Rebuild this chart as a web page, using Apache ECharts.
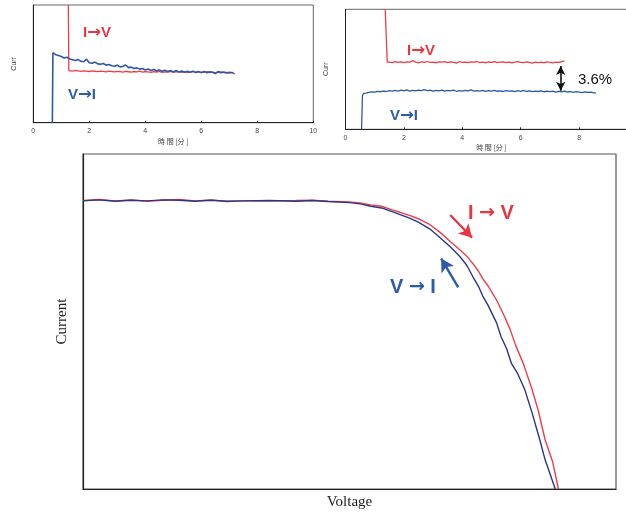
<!DOCTYPE html>
<html>
<head>
<meta charset="utf-8">
<script src="https://cdn.jsdelivr.net/npm/echarts@6/dist/echarts.min.js"></script>
<style>
html, body { margin: 0; padding: 0; background: #fff; }
#c { width: 626px; height: 513px; }
</style>
</head>
<body>
<div id="c"></div>
<script>
// ---- Panel A: current vs. time (upper left) ----
const aIVLead = [[1.25, 100], [1.27, 44.2]];
const aIVStart = 1.3;
const aIVValues = [
  44.2, 43.8, 44.4, 44.0, 43.6, 44.1, 43.9, 43.5, 44.0, 43.7,
  43.4, 43.9, 43.6, 43.2, 43.8, 43.5, 43.1, 43.6, 43.4, 43.0,
  43.7, 43.3, 42.9, 43.5, 43.2, 43.8, 42.9, 43.4, 43.1, 42.7,
  43.3, 43.0, 43.6, 42.8, 43.2, 42.9, 43.5, 42.7, 43.1, 43.4,
  42.8, 43.2, 42.6, 43.0, 43.5, 42.7, 43.1, 42.5, 42.9, 43.3,
  42.6, 43.0, 42.4, 42.9, 43.2, 42.5, 42.8, 42.2, 42.7, 41.3
];
const aVILead = [[0.68, 0], [0.70, 59.5], [0.75, 58.6]];
const aVIStart = 0.8;
const aVIValues = [
  57.8, 57.0, 56.2, 55.0, 55.6, 54.2, 53.5, 52.8, 53.6, 52.2,
  51.8, 54.0, 51.0, 50.6, 51.5, 50.0, 49.6, 50.3, 48.9, 49.5,
  48.4, 47.9, 48.8, 47.4, 48.0, 49.0, 46.8, 47.2, 46.0, 46.6,
  45.5, 46.1, 44.8, 45.6, 44.4, 45.2, 44.0, 44.9, 43.7, 44.6,
  43.5, 44.3, 43.2, 44.4, 43.0, 43.9, 42.8, 43.7, 42.9, 43.8,
  42.6, 43.5, 42.7, 43.6, 42.4, 43.3, 42.8, 41.8, 43.4, 42.5,
  43.1, 42.3, 42.9, 42.4
];
const aVITail = [[7.15, 42.6]];

// ---- Panel B: current vs. time (upper right) ----
const bIVLead = [[1.36, 100], [1.43, 56.0]];
const bIVStart = 1.5;
const bIVValues = [
  56.0, 55.6, 56.4, 55.8, 56.2, 55.5, 56.1, 55.9, 57.2, 56.0,
  55.4, 56.3, 55.8, 56.5, 55.7, 56.0, 55.3, 56.2, 55.9, 56.4,
  55.6, 56.1, 55.8, 55.2, 56.3, 55.7, 56.0, 55.5, 56.2, 55.9,
  56.5, 55.6, 56.0, 55.4, 56.1, 55.8, 56.3, 55.5, 55.9, 56.2,
  55.6, 56.0, 55.3, 55.9, 56.4, 55.7, 55.5, 56.1, 55.8, 55.2,
  56.0, 55.6, 55.9, 55.3, 56.2, 55.7, 55.4, 56.0, 55.8, 56.3, 57.0
];
const bVILead = [[0.55, 0], [0.58, 28.0], [0.62, 30.0]];
const bVIStart = 0.7;
const bVIValues = [
  30.2, 30.8, 31.2, 31.0, 31.6, 31.3, 31.9, 31.5, 32.2, 31.8,
  32.4, 31.9, 32.6, 32.1, 32.8, 31.8, 32.5, 32.0, 32.7, 32.2,
  33.0, 32.3, 32.6, 31.9, 32.5, 32.1, 32.7, 31.8, 32.4, 32.0,
  32.6, 31.7, 32.3, 31.9, 32.5, 32.0, 32.8, 31.8, 32.3, 31.9,
  32.4, 31.6, 32.2, 31.8, 32.5, 31.7, 32.1, 31.5, 32.3, 31.8,
  32.0, 31.4, 32.2, 31.6, 32.4, 31.5, 32.0, 31.3, 31.9, 31.5,
  32.1, 31.2, 31.8, 31.4, 31.9, 31.0, 31.7, 31.2, 31.8, 31.0,
  31.5, 30.8, 31.4, 31.0, 30.6, 31.2, 30.7, 30.9, 30.4
];
const bVITail = [[8.58, 30.3]];
const bGapTime = 7.37;
const bGapTop = 52.75;
const bGapBottom = 32.2;
const bGapLabel = '3.6%';

// ---- Panel C: I-V curves ----
const cIV = [
  [0, 86.1], [3, 86.4], [6, 86.0], [9, 86.3], [12, 85.9], [15, 86.2], [18, 86.4],
  [21, 86.0], [24, 86.3], [27, 85.8], [30, 86.0], [35, 86.0], [40, 86.1], [43, 86.2],
  [46, 85.9], [50, 85.7], [52, 85.4], [54, 84.8], [56, 84.4], [58, 83.3], [59.5, 82.6],
  [61.4, 81.6], [63, 80.6], [65.1, 78.9], [67, 76.6], [68.9, 73.9], [70.7, 71.4],
  [72, 69.5], [73.2, 67.2], [74.2, 65.0], [75.0, 62.8], [76.0, 60.6], [77.6, 56.4],
  [79.0, 51.8], [80.1, 47.8], [81.2, 42.8], [82.6, 37.5], [84.2, 30.0], [85.4, 23.5],
  [86.7, 14.7], [88.1, 8.2], [89.2, 0]
];
const cVI = [
  [0, 86.0], [3, 86.3], [6, 85.9], [9, 86.2], [12, 86.0], [15, 86.3], [18, 86.2],
  [21, 85.9], [24, 86.2], [27, 85.9], [30, 86.0], [35, 86.1], [40, 85.9], [43, 86.1],
  [46, 85.8], [50, 85.5], [52, 85.1], [54, 84.4], [56, 83.9], [58, 82.8], [59.5, 81.9],
  [61.4, 80.8], [63, 79.6], [65.1, 77.6], [67, 75.0], [68.9, 72.3], [70.7, 69.4],
  [72, 66.8], [73.2, 63.2], [74.2, 60.5], [75.0, 57.6], [76.0, 54.8], [77.6, 49.6],
  [78.4, 45.6], [79.5, 41.8], [80.4, 37.4], [81.5, 34.6], [82.9, 29.6], [84.3, 22.5],
  [85.7, 14.7], [86.7, 8.7], [87.7, 4.2], [88.6, 0]
];
const cIVArrow = [[68.9, 81.8], [73.0, 75.0]];
const cVIArrow = [[70.4, 60.2], [67.2, 68.8]];

// turn evenly sampled readings into [time, value] pairs
function sampled(start, values) {
  return values.map((v, i) => [+(start + i * 0.1).toFixed(2), v]);
}

const RED = '#ee3d48';
const BLUE = '#2c58a8';
const NAVY = '#2b3585';
const LABEL_RED = '#e8353f';
const LABEL_BLUE = '#2d5aab';
const SANS = 'Liberation Sans, DejaVu Sans, sans-serif';
const SERIF = 'Liberation Serif, DejaVu Serif, serif';
const CJK = 'Noto Sans CJK JP, sans-serif';

function timeAxis(gridIndex) {
  return {
    type: 'value', gridIndex, min: 0, max: 10, interval: 2,
    axisLine: { show: true, lineStyle: { color: '#222', width: 1 } },
    axisTick: { show: true, inside: true, length: 2, lineStyle: { color: '#222' } },
    axisLabel: { fontSize: 7, color: '#444', fontFamily: SANS, margin: 5 },
    splitLine: { show: false },
    name: '時 間 [分 ]', nameLocation: 'middle', nameGap: 15,
    nameTextStyle: { fontSize: 7, color: '#444', fontFamily: CJK }
  };
}
function currAxis(gridIndex) {
  return {
    type: 'value', gridIndex, min: 0, max: 100,
    axisLine: { show: true, lineStyle: { color: '#222', width: 1 } },
    axisTick: { show: false }, axisLabel: { show: false },
    splitLine: { show: false },
    name: 'Curr', nameLocation: 'middle', nameGap: 16, nameRotate: 90,
    nameTextStyle: { fontSize: 7, color: '#444', fontFamily: SANS }
  };
}
function lineSeries(idx, data, color, width) {
  return {
    type: 'line', xAxisIndex: idx, yAxisIndex: idx, data,
    showSymbol: false, symbol: 'none', animation: false,
    lineStyle: { color, width }, silent: true
  };
}
// direction label: letters in a sans face, heavy arrow between them
function label(from, to, x, y, color, size, arrowScale, spaced) {
  const pad = spaced ? ' ' : '';
  return {
    type: 'text', x, y, silent: true,
    style: {
      text: '{l|' + from + pad + '}{a|→}{l|' + pad + to + '}',
      fill: color, verticalAlign: 'middle',
      rich: {
        l: { fill: color, fontSize: size, fontWeight: 'bold', fontFamily: 'Liberation Sans' },
        a: { fill: color, fontSize: size * arrowScale, fontWeight: 'bold', fontFamily: 'DejaVu Sans' }
      }
    }
  };
}

const chart = echarts.init(document.getElementById('c'), null, { renderer: 'canvas' });

const gapMark = lineSeries(1, bIVLead.concat(sampled(bIVStart, bIVValues)), RED, 1.3);

chart.setOption({
  animation: false,
  backgroundColor: '#fff',
  grid: [
    { left: 33.3, top: 5, width: 280, height: 117.7, show: true,
      borderColor: '#666', borderWidth: 1, outerBoundsMode: 'none' },
    { left: 345.5, top: 9.3, width: 292, height: 120, show: true,
      borderColor: '#666', borderWidth: 1, outerBoundsMode: 'none' },
    { left: 83, top: 154, right: 10, bottom: 24, show: true,
      borderColor: '#555', borderWidth: 1.2, outerBoundsMode: 'none' }
  ],
  xAxis: [
    timeAxis(0),
    timeAxis(1),
    {
      type: 'value', gridIndex: 2, min: 0, max: 100,
      axisLine: { show: true, lineStyle: { color: '#222', width: 1.2 } },
      axisTick: { show: false }, axisLabel: { show: false }, splitLine: { show: false },
      name: 'Voltage', nameLocation: 'middle', nameGap: 6,
      nameTextStyle: { fontSize: 15, color: '#222', fontFamily: SERIF, verticalAlign: 'top' }
    }
  ],
  yAxis: [
    currAxis(0),
    currAxis(1),
    {
      type: 'value', gridIndex: 2, min: 0, max: 100,
      axisLine: { show: true, lineStyle: { color: '#222', width: 1.2 } },
      axisTick: { show: false }, axisLabel: { show: false }, splitLine: { show: false },
      name: 'Current', nameLocation: 'middle', nameGap: 13, nameRotate: 90,
      nameTextStyle: { fontSize: 15, color: '#222', fontFamily: SERIF }
    }
  ],
  series: [
    lineSeries(0, aIVLead.concat(sampled(aIVStart, aIVValues)), RED, 1.3),
    lineSeries(0, aVILead.concat(sampled(aVIStart, aVIValues), aVITail), BLUE, 1.6),
    Object.assign(gapMark, {
      markLine: {
        silent: true, symbol: ['arrow', 'arrow'], symbolSize: [7, 9],
        lineStyle: { color: '#111', width: 1.6, type: 'solid' },
        label: { show: false },
        data: [[{ coord: [bGapTime, bGapTop] }, { coord: [bGapTime, bGapBottom] }]]
      }
    }),
    lineSeries(1, bVILead.concat(sampled(bVIStart, bVIValues), bVITail), BLUE, 1.3),
    Object.assign(lineSeries(2, cIV, RED, 1.4), {
      markLine: {
        silent: true, symbol: ['none', 'arrow'], symbolSize: [11, 13],
        lineStyle: { color: LABEL_RED, width: 2.4, type: 'solid' },
        label: { show: false },
        data: [[{ coord: cIVArrow[0] }, { coord: cIVArrow[1] }]]
      }
    }),
    Object.assign(lineSeries(2, cVI, NAVY, 1.4), {
      markLine: {
        silent: true, symbol: ['none', 'arrow'], symbolSize: [11, 13],
        lineStyle: { color: LABEL_BLUE, width: 2.4, type: 'solid' },
        label: { show: false },
        data: [[{ coord: cVIArrow[0] }, { coord: cVIArrow[1] }]]
      }
    })
  ],
  graphic: [
    label('I', 'V', 83, 33, LABEL_RED, 15, 1.1, false),
    label('V', 'I', 68, 95, LABEL_BLUE, 15, 1.1, false),
    label('I', 'V', 407, 51, LABEL_RED, 15, 1.1, false),
    label('V', 'I', 390, 116, LABEL_BLUE, 15, 1.1, false),
    {
      type: 'text', x: 578, y: 79.5, silent: true,
      style: { text: bGapLabel, fill: '#111', fontSize: 15, fontFamily: SANS, verticalAlign: 'middle' }
    },
    label('I', 'V', 468, 213, LABEL_RED, 20, 0.95, true),
    label('V', 'I', 390, 287, LABEL_BLUE, 20, 0.95, true)
  ]
});
</script>
</body>
</html>
